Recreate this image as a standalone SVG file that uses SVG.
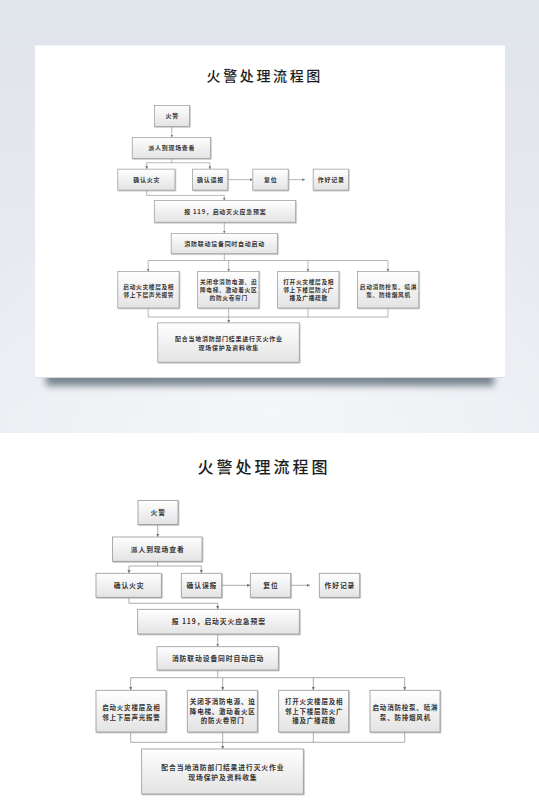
<svg xmlns="http://www.w3.org/2000/svg" width="539" height="812" viewBox="0 0 539 812">
<defs>
<linearGradient id="bg" x1="0" y1="0" x2="0" y2="1"><stop offset="0" stop-color="#e0e4eb"/><stop offset="1" stop-color="#eceef3"/></linearGradient>
<radialGradient id="glow" cx="0.5" cy="0.95" r="0.6"><stop offset="0" stop-color="#f6f7fa" stop-opacity="0.9"/><stop offset="1" stop-color="#f6f7fa" stop-opacity="0"/></radialGradient>
<linearGradient id="boxg" x1="0" y1="0" x2="0" y2="1"><stop offset="0" stop-color="#ffffff"/><stop offset="1" stop-color="#e3e3e3"/></linearGradient>
<filter id="blur" x="-10%" y="-100%" width="120%" height="300%"><feGaussianBlur stdDeviation="3.5"/></filter>
<filter id="bs" x="-10%" y="-10%" width="130%" height="130%"><feDropShadow dx="0.8" dy="0.8" stdDeviation="0.5" flood-color="#888" flood-opacity="0.6"/></filter>
<marker id="ah" markerUnits="userSpaceOnUse" markerWidth="4" markerHeight="4" refX="3.2" refY="1.6" orient="auto"><path d="M0,0 L3.2,1.6 L0,3.2 Z" fill="#777"/></marker>
</defs>
<style>
.box{fill:url(#boxg);stroke:#9a9a9a;stroke-width:0.8;filter:url(#bs)}
.t{font-family:"Noto Sans CJK SC","Noto Sans",sans-serif;font-size:6.8px;fill:#333;font-weight:bold;text-anchor:middle;letter-spacing:0.9px}
.s{font-size:6.5px;letter-spacing:0.8px}
.title{font-family:"Noto Sans CJK SC","Noto Sans",sans-serif;font-size:16px;fill:#1e1e1e;font-weight:500;text-anchor:middle;letter-spacing:3px}
.c{fill:none;stroke:#888;stroke-width:0.7}
.a{marker-end:url(#ah)}
</style>
<rect x="0" y="0" width="539" height="433" fill="url(#bg)"/>
<rect x="0" y="0" width="539" height="433" fill="url(#glow)"/>
<rect x="0" y="433" width="539" height="379" fill="#ffffff"/>
<rect x="46" y="369" width="448" height="17" fill="#5f6c78" opacity="0.8" filter="url(#blur)"/>
<rect x="35" y="45.5" width="470" height="332" fill="#ffffff"/>
<line x1="35" y1="377.5" x2="505" y2="377.5" stroke="#d6d9de" stroke-width="0.8"/>

<g id="top-card" transform="translate(33.8,-332.5) scale(0.875)">
<text class="title" x="264" y="472.5">火警处理流程图</text>
<g id="t-connectors">
<path class="c a" d="M157.7,524.7 V537"/>
<path class="c" d="M157.7,561.3 V566 M129,566 H201.3"/>
<path class="c a" d="M129,566 V573.3"/>
<path class="c a" d="M201.3,566 V573.3"/>
<path class="c a" d="M221.7,585.3 H250.3"/>
<path class="c a" d="M290.7,585.3 H310"/>
<path class="c a" d="M129,597.3 V603.3 H217.7 V609.3"/>
<path class="c a" d="M217.7,634 V646.7"/>
<path class="c" d="M217.7,670 V677.7 M130.7,677.7 H404.7"/>
<path class="c a" d="M130.7,677.7 V690.3"/>
<path class="c a" d="M222.7,677.7 V690.3"/>
<path class="c a" d="M313.3,677.7 V690.3"/>
<path class="c a" d="M404.7,677.7 V690.3"/>
<path class="c" d="M130.7,732 V742.3 H404.7 V732 M313.3,732 V742.3 M222.7,732 V742.3"/>
<path class="c a" d="M222.7,742.3 V749"/>
</g>
<g id="t-n1"><rect class="box" x="138" y="500.5" width="40" height="24"/><text class="t" x="158.2" y="515">火警</text></g>
<g id="t-n2"><rect class="box" x="112.5" y="537" width="89.5" height="24.3"/><text class="t" x="157.7" y="551.6">派人到现场查看</text></g>
<g id="t-n3"><rect class="box" x="96" y="573.3" width="65.3" height="24"/><text class="t" x="129.1" y="587.7">确认火灾</text></g>
<g id="t-n4"><rect class="box" x="181.3" y="573.3" width="40.4" height="24"/><text class="t" x="201.9" y="587.7">确认误报</text></g>
<g id="t-n5"><rect class="box" x="250.3" y="573.3" width="40.4" height="24"/><text class="t" x="270.9" y="587.7">复位</text></g>
<g id="t-n6"><rect class="box" x="319.3" y="573.3" width="40.4" height="24"/><text class="t" x="339.9" y="587.7">作好记录</text></g>
<g id="t-n7"><rect class="box" x="137.7" y="609.3" width="161.6" height="24.7"/><text class="t" x="218.9" y="624.1">报 119，启动灭火应急预案</text></g>
<g id="t-n8"><rect class="box" x="157" y="646.7" width="121.3" height="23.3"/><text class="t" x="218.1" y="660.7">消防联动设备同时自动启动</text></g>
<g id="t-n9"><rect class="box" x="96" y="690.3" width="70" height="41.7"/><text class="t s" x="131.4" y="710">启动火灾楼层及相</text><text class="t s" x="131.4" y="719.6">邻上下层声光报警</text></g>
<g id="t-n10"><rect class="box" x="187.3" y="690.3" width="70" height="41.7"/><text class="t s" x="222.7" y="704.4">关闭非消防电源、迫</text><text class="t s" x="222.7" y="713.9">降电梯、激动着火区</text><text class="t s" x="222.7" y="723.4">的防火卷帘门</text></g>
<g id="t-n11"><rect class="box" x="278.7" y="690.3" width="70" height="41.7"/><text class="t s" x="314.1" y="704.4">打开火灾楼层及相</text><text class="t s" x="314.1" y="713.9">邻上下楼层防火广</text><text class="t s" x="314.1" y="723.4">播及广播疏散</text></g>
<g id="t-n12"><rect class="box" x="370" y="690.3" width="70" height="41.7"/><text class="t s" x="405.4" y="710">启动消防栓泵、喷淋</text><text class="t s" x="405.4" y="719.6">泵、防排烟风机</text></g>
<g id="t-n13"><rect class="box" x="141.7" y="749" width="161.6" height="45"/><text class="t" x="222.9" y="770.1">配合当地消防部门结果进行灭火作业</text><text class="t" x="222.9" y="779.7">现场保护及资料收集</text></g>
</g>

<g id="main">
<text class="title" x="264" y="472.5">火警处理流程图</text>
<g id="connectors">
<path class="c a" d="M157.7,524.7 V537"/>
<path class="c" d="M157.7,561.3 V566 M129,566 H201.3"/>
<path class="c a" d="M129,566 V573.3"/>
<path class="c a" d="M201.3,566 V573.3"/>
<path class="c a" d="M221.7,585.3 H250.3"/>
<path class="c a" d="M290.7,585.3 H310"/>
<path class="c a" d="M129,597.3 V603.3 H217.7 V609.3"/>
<path class="c a" d="M217.7,634 V646.7"/>
<path class="c" d="M217.7,670 V677.7 M130.7,677.7 H404.7"/>
<path class="c a" d="M130.7,677.7 V690.3"/>
<path class="c a" d="M222.7,677.7 V690.3"/>
<path class="c a" d="M313.3,677.7 V690.3"/>
<path class="c a" d="M404.7,677.7 V690.3"/>
<path class="c" d="M130.7,732 V742.3 H404.7 V732 M313.3,732 V742.3 M222.7,732 V742.3"/>
<path class="c a" d="M222.7,742.3 V749"/>
</g>
<g id="n1"><rect class="box" x="138" y="500.5" width="40" height="24"/><text class="t" x="158.2" y="515">火警</text></g>
<g id="n2"><rect class="box" x="112.5" y="537" width="89.5" height="24.3"/><text class="t" x="157.7" y="551.6">派人到现场查看</text></g>
<g id="n3"><rect class="box" x="96" y="573.3" width="65.3" height="24"/><text class="t" x="129.1" y="587.7">确认火灾</text></g>
<g id="n4"><rect class="box" x="181.3" y="573.3" width="40.4" height="24"/><text class="t" x="201.9" y="587.7">确认误报</text></g>
<g id="n5"><rect class="box" x="250.3" y="573.3" width="40.4" height="24"/><text class="t" x="270.9" y="587.7">复位</text></g>
<g id="n6"><rect class="box" x="319.3" y="573.3" width="40.4" height="24"/><text class="t" x="339.9" y="587.7">作好记录</text></g>
<g id="n7"><rect class="box" x="137.7" y="609.3" width="161.6" height="24.7"/><text class="t" x="218.9" y="624.1">报 119，启动灭火应急预案</text></g>
<g id="n8"><rect class="box" x="157" y="646.7" width="121.3" height="23.3"/><text class="t" x="218.1" y="660.7">消防联动设备同时自动启动</text></g>
<g id="n9"><rect class="box" x="96" y="690.3" width="70" height="41.7"/><text class="t s" x="131.4" y="710">启动火灾楼层及相</text><text class="t s" x="131.4" y="719.6">邻上下层声光报警</text></g>
<g id="n10"><rect class="box" x="187.3" y="690.3" width="70" height="41.7"/><text class="t s" x="222.7" y="704.4">关闭非消防电源、迫</text><text class="t s" x="222.7" y="713.9">降电梯、激动着火区</text><text class="t s" x="222.7" y="723.4">的防火卷帘门</text></g>
<g id="n11"><rect class="box" x="278.7" y="690.3" width="70" height="41.7"/><text class="t s" x="314.1" y="704.4">打开火灾楼层及相</text><text class="t s" x="314.1" y="713.9">邻上下楼层防火广</text><text class="t s" x="314.1" y="723.4">播及广播疏散</text></g>
<g id="n12"><rect class="box" x="370" y="690.3" width="70" height="41.7"/><text class="t s" x="405.4" y="710">启动消防栓泵、喷淋</text><text class="t s" x="405.4" y="719.6">泵、防排烟风机</text></g>
<g id="n13"><rect class="box" x="141.7" y="749" width="161.6" height="45"/><text class="t" x="222.9" y="770.1">配合当地消防部门结果进行灭火作业</text><text class="t" x="222.9" y="779.7">现场保护及资料收集</text></g>
</g>
</svg>
